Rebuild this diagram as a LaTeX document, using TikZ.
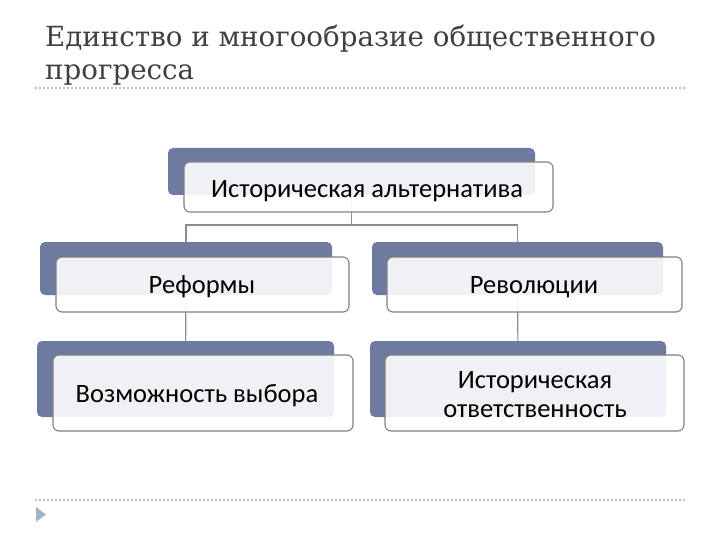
\documentclass[tikz,border=0pt]{standalone}
\usepackage{fontspec}
\setmainfont{Carlito}
\newfontfamily\titlefont{DejaVu Serif}
\pgfdeclarelayer{bg}
\pgfsetlayers{bg,main}
\definecolor{backblue}{RGB}{110,122,160}
\definecolor{frameGray}{RGB}{128,128,128}
\definecolor{lineGray}{RGB}{140,140,140}
\definecolor{dotGray}{RGB}{185,192,204}
\definecolor{titleGray}{RGB}{64,64,64}
\definecolor{triBlue}{RGB}{160,180,205}
\tikzset{
  backbox/.style={rectangle, rounded corners=5pt, fill=backblue, draw=none, inner sep=0pt},
  frontbox/.style={rectangle, rounded corners=6pt, fill=white, fill opacity=0.9,
     draw=frameGray, line width=1.1pt, inner sep=0pt},
  boxtext/.style={anchor=base, inner sep=0pt, align=center,
     font=\fontsize{26.5}{29}\selectfont, text=black},
  conn/.style={draw=lineGray, line width=1.1pt},
  dotline/.style={draw=dotGray, line width=1.6pt, dash pattern=on 2pt off 2pt},
  titletext/.style={anchor=base west, inner sep=0pt, text=titleGray, font=\titlefont\fontsize{27.7}{30}\selectfont}
}
\begin{document}
\begin{tikzpicture}[x=1pt,y=-1pt]
\useasboundingbox (0,0) rectangle (720,540);
% title
\node[titletext] (t1) at (45,47) {Единство и многообразие общественного};
\node[titletext] (t2) at (45,80) {прогресса};
\coordinate (d1a) at (35,88);
\coordinate (d1b) at (686,88);
\draw[dotline] (d1a) -- (d1b);
\coordinate (d2a) at (35,500);
\coordinate (d2b) at (686,500);
\draw[dotline] (d2a) -- (d2b);
\fill[triBlue] (36,507) -- (46,514.5) -- (36,522) -- cycle;
% back boxes
\node[backbox, minimum width=367pt, minimum height=47pt] (topB) at (351.5,171.5) {};
\node[backbox, minimum width=292pt, minimum height=53pt] (lB) at (186,268.5) {};
\node[backbox, minimum width=291pt, minimum height=53pt] (rB) at (517.5,268.5) {};
\node[backbox, minimum width=297pt, minimum height=76pt] (llB) at (185.5,379) {};
\node[backbox, minimum width=296pt, minimum height=76pt] (rrB) at (518,379) {};
% connectors
\begin{pgfonlayer}{bg}
\coordinate (jn) at (topB.center |- 0,225);
\draw[conn] (topB.center) -- (jn);
\draw[conn] (lB.center) |- (jn) -| (rB.center);
\draw[conn] (lB.center) -- (llB.center);
\draw[conn] (rB.center) -- (rrB.center);
\end{pgfonlayer}
% front boxes
\node[frontbox, minimum width=369pt, minimum height=50pt] (top) at (368.5,187) {};
\node[frontbox, minimum width=293pt, minimum height=55pt] (l) at (202.5,284.5) {};
\node[frontbox, minimum width=295pt, minimum height=55pt] (r) at (534.5,284.5) {};
\node[frontbox, minimum width=300pt, minimum height=76pt] (ll) at (203,393) {};
\node[frontbox, minimum width=299pt, minimum height=76pt] (rr) at (534.5,393) {};
% texts
\node[boxtext] (topT) at (367,197) {Историческая альтернатива};
\node[boxtext] (lT) at (202,293) {Реформы};
\node[boxtext] (rT) at (534,293) {Революции};
\node[boxtext] (llT) at (197,402) {Возможность выбора};
\node[boxtext] (rrT) at (535,417) {Историческая\\ответственность};
\end{tikzpicture}
\end{document}
